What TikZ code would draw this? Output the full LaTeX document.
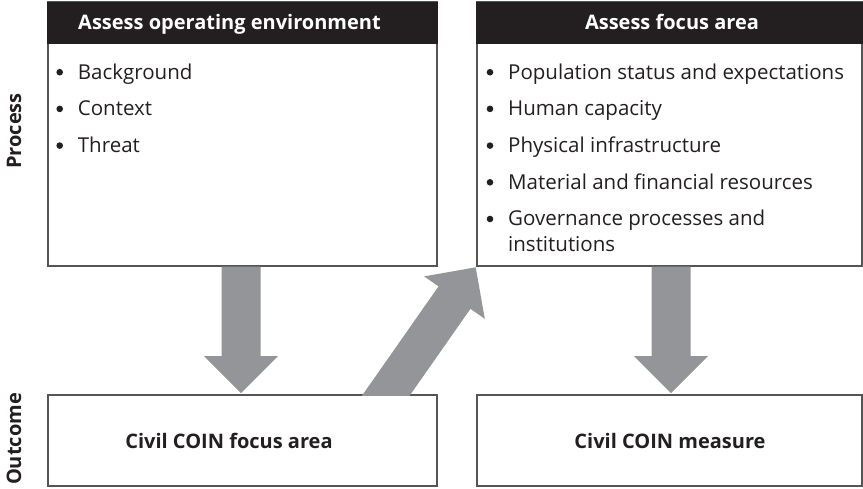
\documentclass[tikz,border=0pt]{standalone}
\usepackage{fontspec}
\setmainfont{Open Sans}
\usetikzlibrary{calc}
\definecolor{arrowgray}{HTML}{939598}
\definecolor{ink}{HTML}{231F20}
\definecolor{frame}{HTML}{555555}
\tikzset{
  box/.style={draw=frame, line width=1.3pt, inner sep=0pt, fill=none},
  hdr/.style={fill=ink, inner sep=0pt},
  hdrtext/.style={text=white, font=\fontsize{20}{22}\selectfont\bfseries, inner sep=0pt, anchor=base},
  item/.style={text=ink, font=\fontsize{20.5}{24}\selectfont, inner sep=0pt, anchor=base west},
  bulletdot/.style={fill=ink},
  outtext/.style={text=ink, font=\fontsize{20}{22}\selectfont\bfseries, inner sep=0pt, anchor=base},
  side/.style={text=ink, font=\fontsize{20}{22}\selectfont\bfseries, inner sep=0pt, rotate=90},
  fat/.style={fill=arrowgray}
}
\newcommand\fatarrow[2]{%
  \path (#2) coordinate (fa-t) ($(#2)!37pt!(#1)$) coordinate (fa-h);
  \fill[fat] ($(#1)!19.5pt!90:(#2)$) -- ($(fa-h)!19.5pt!90:(fa-t)$) -- ($(fa-h)!37pt!90:(fa-t)$) -- (fa-t)
    -- ($(fa-h)!37pt!-90:(fa-t)$) -- ($(fa-h)!19.5pt!-90:(fa-t)$) -- ($(#1)!19.5pt!-90:(#2)$) -- cycle;}
\newcommand\bitem[4]{%
  \fill[bulletdot] (#1+4,-#2+6.8) circle (3.3pt);
  \node[item] (#4) at (#1+22,-#2) {#3};}
\begin{document}
\begin{tikzpicture}[x=1pt,y=1pt]
\useasboundingbox (0,0) rectangle (863,-488);
% boxes
\node[box, minimum width=389pt, minimum height=264pt] (ope) at (242.5,-134) {};
\node[box, minimum width=385pt, minimum height=264pt] (fa) at (669.5,-134) {};
\node[box, minimum width=389pt, minimum height=91pt] (civ) at (242.5,-440.5) {};
\node[box, minimum width=385pt, minimum height=91pt] (mea) at (669.5,-440.5) {};
% headers
\node[hdr, minimum width=390.3pt, minimum height=42pt, anchor=north] (opeh) at (ope.north) {};
\node[hdr, minimum width=386.3pt, minimum height=42pt, anchor=north] (fah) at (fa.north) {};
\node[hdrtext] (opet) at (229.5,-29) {Assess operating environment};
\node[hdrtext] (fat) at (672,-29) {Assess focus area};
% items
\bitem{55.7}{79}{Background}{i1}
\bitem{55.7}{115.7}{Context}{i2}
\bitem{55.7}{152.4}{Threat}{i3}
\bitem{486}{79}{Population status and expectations}{j1}
\bitem{486}{115.7}{Human capacity}{j2}
\bitem{486}{152.4}{Physical infrastructure}{j3}
\bitem{486}{189.1}{Material and financial resources}{j4}
\bitem{486}{225.8}{Governance processes and}{j5}
\node[item] (inst) at (508,-251.3) {institutions};
% outcomes
\node[outtext] (civt) at (229,-448) {Civil COIN focus area};
\node[outtext] (meat) at (670,-448) {Civil COIN measure};
% side labels
\node[side] (proc) at (14,-131) {Process};
\node[side] (outc) at (14,-439) {Outcome};
% arrows
\coordinate (a1s) at (241,-266.5);
\coordinate (a1e) at (241,-393);
\coordinate (a2s) at (372.3,-415);
\coordinate (a2e) at (475.7,-267.3);
\coordinate (a3s) at (671,-266.5);
\coordinate (a3e) at (671,-393);
\fatarrow{a1s}{a1e}
\begin{scope}
  \clip (0,-395.7) rectangle (863,0);
  \fatarrow{a2s}{a2e}
\end{scope}
\fatarrow{a3s}{a3e}
\end{tikzpicture}
\end{document}
